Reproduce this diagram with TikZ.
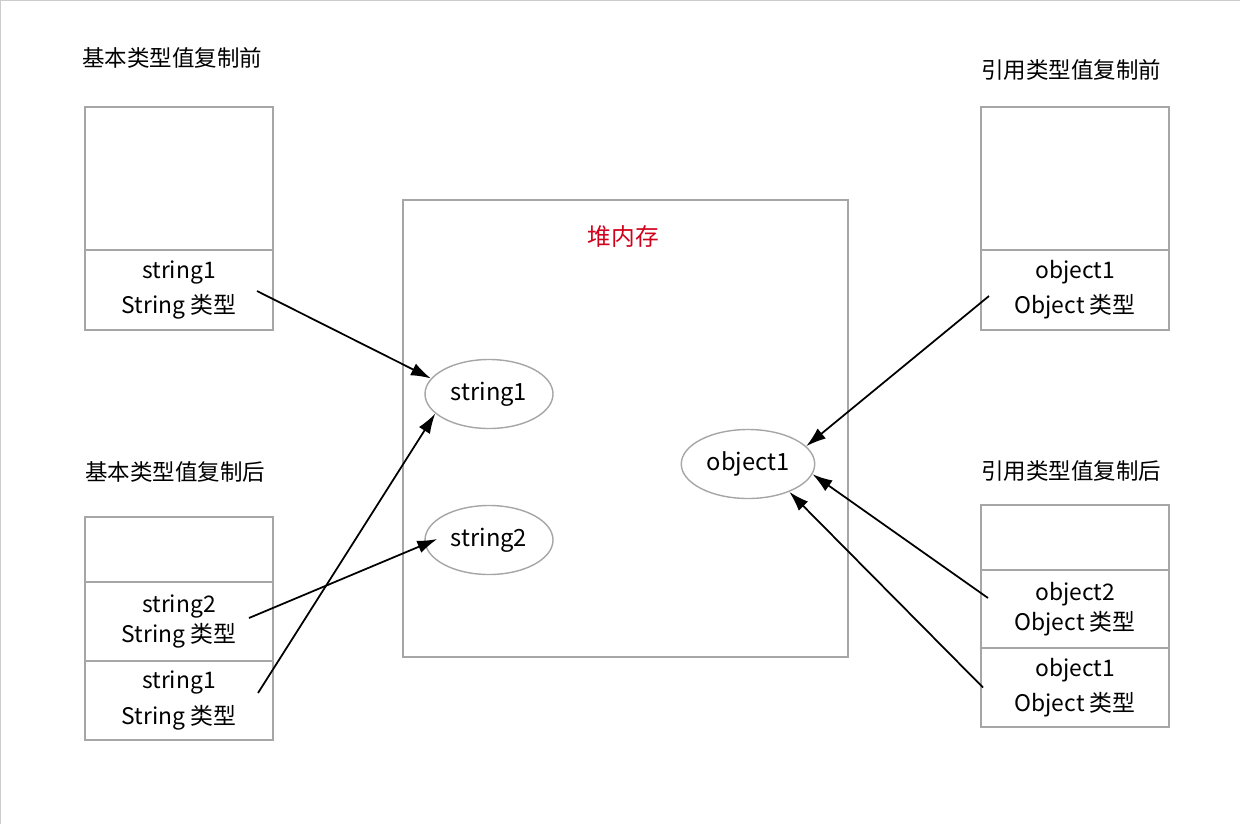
\documentclass[tikz,border=0pt]{standalone}
\usepackage{fontspec}
\setmainfont{Noto Sans CJK SC}
\usepackage{xcolor}
\usepackage{tikz}
\usetikzlibrary{shapes.geometric, arrows.meta, positioning, calc}
\definecolor{boxgray}{HTML}{A6A6A6}
\definecolor{heapred}{HTML}{D0021B}
\tikzstyle{cell} = [rectangle, minimum width=3.76cm, text centered, align=center, draw=boxgray, line width=0.8pt, outer sep=0pt, inner sep=0pt, font=\fontsize{13}{20}\selectfont]
\tikzstyle{heapobj} = [ellipse, minimum width=2.56cm, minimum height=1.38cm, draw=boxgray, line width=0.8pt, font=\fontsize{13.5}{15}\selectfont]
\tikzstyle{title} = [anchor=west, inner sep=0pt, font=\fontsize{12.8}{15}\selectfont]
\tikzstyle{arrow} = [line width=1pt, -{Latex[length=0.4cm, width=0.26cm]}]

\begin{document}
\begin{tikzpicture}
\useasboundingbox (0,0) rectangle (24.8,-16.48);
\draw [black!20, line width=0.6pt] (0,-16.48) -- (0,0) -- (24.8,0);

% primitive value, before copy
\node (pbtitle) [title] at (1.64,-1.16) {基本类型值复制前};
\node (pb0) [cell, minimum height=2.86cm] at (3.58,-3.57) {};
\node (pb1) [cell, minimum height=1.6cm, below=0pt of pb0] {string1\\String 类型};

% primitive value, after copy
\node (patitle) [title] at (1.7,-9.44) {基本类型值复制后};
\node (pa0) [cell, minimum height=1.3cm] at (3.58,-10.99) {};
\node (pa1) [cell, minimum height=1.58cm, below=0pt of pa0, font=\fontsize{13}{17}\selectfont] {string2\\String 类型};
\node (pa2) [cell, minimum height=1.58cm, below=0pt of pa1] {string1\\String 类型};

% reference value, before copy
\node (rbtitle) [title] at (19.62,-1.4) {引用类型值复制前};
\node (rb0) [cell, minimum height=2.86cm] at (21.5,-3.57) {};
\node (rb1) [cell, minimum height=1.6cm, below=0pt of rb0] {object1\\Object 类型};

% reference value, after copy
\node (ratitle) [title] at (19.62,-9.42) {引用类型值复制后};
\node (ra0) [cell, minimum height=1.3cm] at (21.5,-10.75) {};
\node (ra1) [cell, minimum height=1.56cm, below=0pt of ra0, font=\fontsize{13}{17}\selectfont] {object2\\Object 类型};
\node (ra2) [cell, minimum height=1.58cm, below=0pt of ra1] {object1\\Object 类型};

% heap
\node (heap) [rectangle, draw=boxgray, line width=0.8pt, minimum width=8.9cm, minimum height=9.14cm] at (12.51,-8.57) {};
\node (heaptitle) [text=heapred, font=\fontsize{13.5}{15}\selectfont] at ($(heap.north)+(-0.04,-0.74)$) {堆内存};
\node (str1) [heapobj] at (9.78,-7.88) {string1};
\node (str2) [heapobj] at (9.78,-10.8) {string2};
\node (obj1) [heapobj] at (14.96,-9.28) {object1};

\draw [arrow] ($(pb1.east)+(-0.32,-0.02)$) -- (str1.165);
\draw [arrow] ($(pa2.east)+(-0.3,0.15)$) -- (str1.200);
\draw [arrow] ($(pa1.east)+(-0.48,0.07)$) -- ($(str2.west)+(0.26,0.02)$);
\draw [arrow] ($(rb1.west)+(0.16,-0.12)$) -- (obj1.17);
\draw [arrow] ($(ra1.west)+(0.14,0.22)$) -- (obj1.-9);
\draw [arrow] ($(ra2.west)+(0.04,0)$) -- (obj1.-34);

\end{tikzpicture}
\end{document}
